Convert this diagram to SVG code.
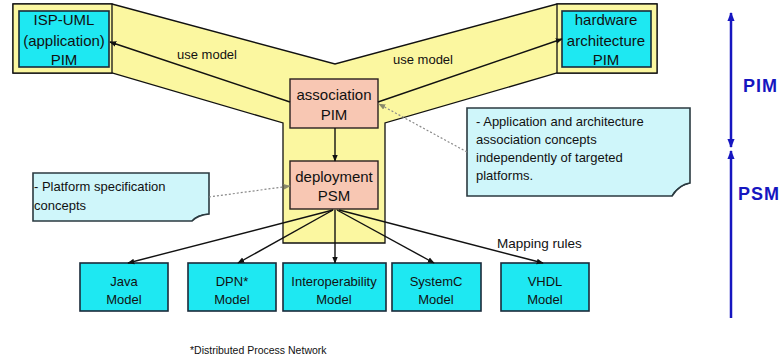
<svg xmlns="http://www.w3.org/2000/svg" width="783" height="360" viewBox="0 0 783 360">
<defs>
<style>
text{font-family:"Liberation Sans",Arial,sans-serif;fill:#111}
.box{fill:#1EE8F2;stroke:#1a2a3a;stroke-width:1.6}
.pink{fill:#F8C7B3;stroke:#2a2020;stroke-width:1.4}
.yel{fill:#FBF7A0;stroke:#111;stroke-width:1.3}
.note{fill:#CFF6FA;stroke:#2b3a40;stroke-width:1.6}
.t15{font-size:15px;text-anchor:middle}
.t13{font-size:13px;text-anchor:middle}
.n13{font-size:13px}
.conn{stroke:#111;stroke-width:1.4;fill:none}
.dot{stroke:#8a8a8a;stroke-width:1.2;fill:none;stroke-dasharray:2 2}
.blue{stroke:#1616C0;stroke-width:2.5;fill:none}
.bl{font-size:18px;font-weight:bold;fill:#1616C0;letter-spacing:1px}
</style>
<marker id="ah" viewBox="0 0 10 10" refX="9" refY="5" markerWidth="7" markerHeight="7" orient="auto-start-reverse" markerUnits="userSpaceOnUse"><path d="M0,1 L10,5 L0,9 Z" fill="#111"/></marker>
<marker id="ag" viewBox="0 0 10 10" refX="9" refY="5" markerWidth="7" markerHeight="7" orient="auto" markerUnits="userSpaceOnUse"><path d="M0,1 L10,5 L0,9 Z" fill="#8a8a6a"/></marker>
<marker id="ab" viewBox="0 0 10 10" refX="9" refY="5" markerWidth="9" markerHeight="9" orient="auto-start-reverse" markerUnits="userSpaceOnUse"><path d="M0,1 L10,5 L0,9 Z" fill="#1616C0"/></marker>
</defs>
<rect width="783" height="360" fill="#fff"/>
<g id="background">
<polygon class="yel" points="13,4 112,4 335,64 557,4 657,4 657,73 557,73 385,123 385,243 283,243 283,123 112,73 13,73"/>
<rect class="yel" x="13" y="4" width="99" height="69"/>
<rect class="yel" x="557" y="4" width="100" height="69"/>
</g>
<g id="isp-uml">
<rect class="box" x="19" y="11" width="90" height="56"/>
<text class="t15" x="64" y="25">ISP-UML</text>
<text class="t15" x="64" y="46">(application)</text>
<text class="t15" x="64" y="65">PIM</text>
</g>
<g id="hardware">
<rect class="box" x="562" y="11" width="89" height="56"/>
<text class="t15" x="606" y="25">hardware</text>
<text class="t15" x="606" y="46">architecture</text>
<text class="t15" x="606" y="65">PIM</text>
</g>
<g id="association">
<rect class="pink" x="290" y="79" width="88" height="49"/>
<text class="t15" x="334" y="100">association</text>
<text class="t15" x="334" y="120">PIM</text>
</g>
<g id="deployment">
<rect class="pink" x="290" y="161" width="88" height="48"/>
<text class="t15" x="334" y="182">deployment</text>
<text class="t15" x="334" y="201">PSM</text>
</g>
<g id="note-app">
<path class="note" d="M467,108 H690 V183 Q680,184 672,196 H467 Z"/>
<path d="M672,196 Q676,187 690,183" fill="none" stroke="#2b3a40" stroke-width="1.2"/>
<text class="n13" x="476" y="126">- Application and architecture</text>
<text class="n13" x="476" y="144">association concepts</text>
<text class="n13" x="476" y="162">independently of targeted</text>
<text class="n13" x="476" y="180">platforms.</text>
</g>
<g id="note-platform">
<path class="note" d="M33,173 H209 V214 Q198,215 192,221 H33 Z"/>
<path d="M192,221 Q196,215 209,214" fill="none" stroke="#2b3a40" stroke-width="1.2"/>
<text class="n13" x="34" y="191">- Platform specification</text>
<text class="n13" x="34" y="210">concepts</text>
</g>
<g id="java">
<rect class="box" x="80" y="263" width="88" height="48"/>
<text class="t13" x="124" y="286">Java</text>
<text class="t13" x="124" y="304">Model</text>
</g>
<g id="dpn">
<rect class="box" x="188" y="263" width="88" height="48"/>
<text class="t13" x="232" y="286">DPN*</text>
<text class="t13" x="232" y="304">Model</text>
</g>
<g id="interop">
<rect class="box" x="283" y="263" width="103" height="48"/>
<text class="t13" x="334" y="286">Interoperability</text>
<text class="t13" x="334" y="304">Model</text>
</g>
<g id="systemc">
<rect class="box" x="392" y="263" width="89" height="48"/>
<text class="t13" x="436" y="286">SystemC</text>
<text class="t13" x="436" y="304">Model</text>
</g>
<g id="vhdl">
<rect class="box" x="501" y="263" width="88" height="48"/>
<text class="t13" x="545" y="286">VHDL</text>
<text class="t13" x="545" y="304">Model</text>
</g>
<g id="connectors">
<line class="conn" x1="290" y1="102" x2="110" y2="42" marker-end="url(#ah)"/>
<line class="conn" x1="378" y1="102" x2="562" y2="39" marker-end="url(#ah)"/>
<line class="conn" x1="335" y1="128" x2="335" y2="161" marker-end="url(#ah)"/>
<line class="dot" x1="467" y1="152" x2="379" y2="104" marker-end="url(#ag)"/>
<line class="dot" x1="209" y1="197" x2="290" y2="186" marker-end="url(#ag)"/>
<line class="conn" x1="333" y1="210" x2="128" y2="263" marker-end="url(#ah)"/>
<line class="conn" x1="333" y1="210" x2="238" y2="263" marker-end="url(#ah)"/>
<line class="conn" x1="335" y1="210" x2="335" y2="263" marker-end="url(#ah)"/>
<line class="conn" x1="337" y1="210" x2="434" y2="263" marker-end="url(#ah)"/>
<line class="conn" x1="339" y1="210" x2="543" y2="263" marker-end="url(#ah)"/>
</g>
<g id="labels">
<text class="n13" x="177" y="59">use model</text>
<text class="n13" x="393" y="64">use model</text>
<text x="497" y="248" style="font-size:13.5px">Mapping rules</text>
<text x="190" y="354" style="font-size:10.5px">*Distributed Process Network</text>
</g>
<g id="axis">
<line class="blue" x1="731" y1="147" x2="731" y2="13" marker-end="url(#ab)" marker-start="url(#ab)"/>
<line class="blue" x1="731" y1="318" x2="731" y2="151" marker-end="url(#ab)"/>
<text class="bl" x="743" y="92">PIM</text>
<text class="bl" x="738" y="200">PSM</text>
</g>
</svg>
